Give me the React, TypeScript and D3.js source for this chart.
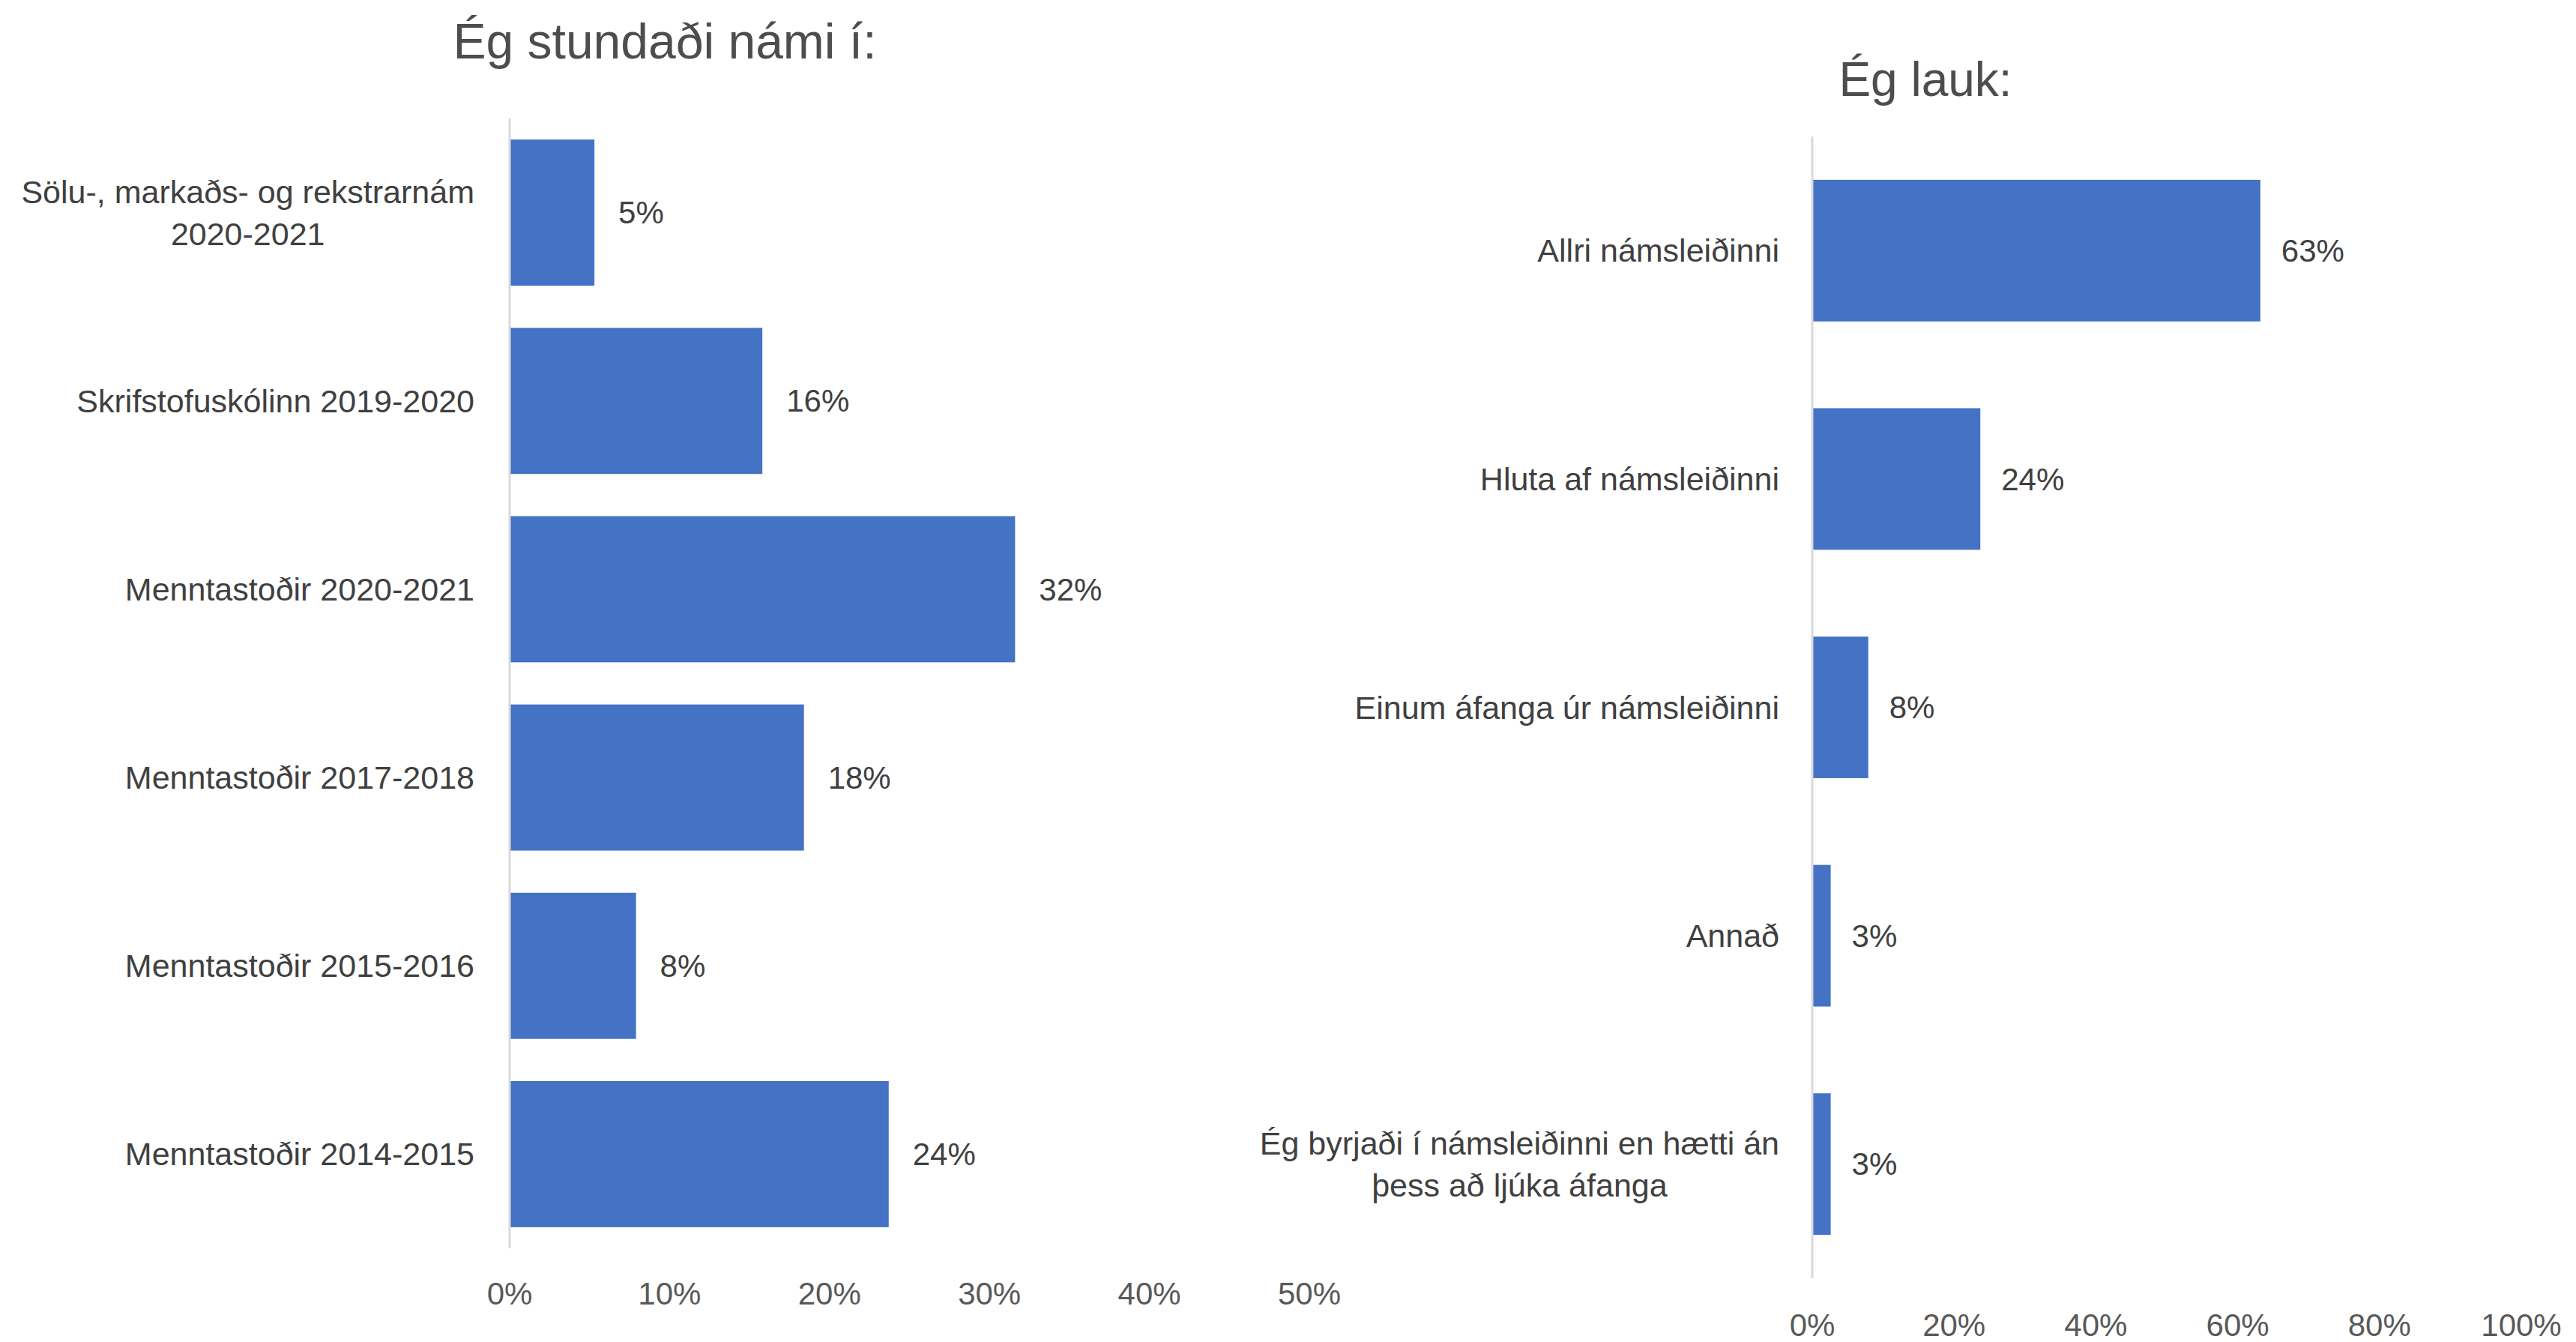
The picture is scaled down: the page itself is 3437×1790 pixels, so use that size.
import React, { useEffect, useRef } from "react";
import * as d3 from "d3";

const leftTitle = "Ég stundaði námi í:";
const leftCategories = [
  ["Sölu-, markaðs- og rekstrarnám", "2020-2021"],
  ["Skrifstofuskólinn 2019-2020"],
  ["Menntastoðir 2020-2021"],
  ["Menntastoðir 2017-2018"],
  ["Menntastoðir 2015-2016"],
  ["Menntastoðir 2014-2015"],
];
const leftValues = [0.053, 0.158, 0.316, 0.184, 0.079, 0.237];
const leftTicks = [0, 0.1, 0.2, 0.3, 0.4, 0.5];

const rightTitle = "Ég lauk:";
const rightCategories = [
  ["Allri námsleiðinni"],
  ["Hluta af námsleiðinni"],
  ["Einum áfanga úr námsleiðinni"],
  ["Annað"],
  ["Ég byrjaði í námsleiðinni en hætti án", "þess að ljúka áfanga"],
];
const rightValues = [0.632, 0.237, 0.079, 0.026, 0.026];
const rightTicks = [0, 0.2, 0.4, 0.6, 0.8, 1.0];

const FONT = "'Liberation Sans', Arial, sans-serif";
const BAR = "#4472C4";
const AXIS = "#D9D9D9";
const LABEL = "#595959";
const DATA = "#404040";

type Panel = {
  title: string;
  titleX: number;
  titleY: number;
  titleSize: number;
  cats: string[][];
  vals: number[];
  ticks: number[];
  domainMax: number;
  x0: number;
  x1: number;
  y0: number;
  y1: number;
  pad: number;
  tickY: number;
  labelGap: number;
  dataGap: number;
};

const panels: Panel[] = [
  {
    title: leftTitle, titleX: 887, titleY: 78, titleSize: 66,
    cats: leftCategories, vals: leftValues, ticks: leftTicks, domainMax: 0.5,
    x0: 680, x1: 1747, y0: 158, y1: 1665, pad: 0.224, tickY: 1740,
    labelGap: 47, dataGap: 32,
  },
  {
    title: rightTitle, titleX: 2569, titleY: 128, titleSize: 64,
    cats: rightCategories, vals: rightValues, ticks: rightTicks, domainMax: 1,
    x0: 2418, x1: 3364, y0: 182, y1: 1705, pad: 0.38, tickY: 1782,
    labelGap: 44, dataGap: 28,
  },
];

export default function App() {
  const ref = useRef<SVGSVGElement>(null);
  useEffect(() => {
    const svg = d3.select(ref.current);
    svg.selectAll("*").remove();
    svg.append("rect").attr("width", 3437).attr("height", 1790).attr("fill", "#fff");
    panels.forEach((p) => {
      const g = svg.append("g");
      const x = d3.scaleLinear().domain([0, p.domainMax]).range([p.x0, p.x1]);
      const y = d3
        .scaleBand<number>()
        .domain(p.cats.map((_, i) => i))
        .range([p.y0, p.y1])
        .paddingInner(p.pad)
        .paddingOuter(p.pad / 2);

      g.append("text")
        .attr("x", p.titleX)
        .attr("y", p.titleY)
        .attr("text-anchor", "middle")
        .attr("font-family", FONT)
        .attr("font-size", p.titleSize)
        .attr("fill", "#4d4d4d")
        .text(p.title);

      g.selectAll("rect.bar")
        .data(p.vals)
        .join("rect")
        .attr("class", "bar")
        .attr("x", x(0))
        .attr("y", (_, i) => y(i)!)
        .attr("width", (d) => x(d) - x(0))
        .attr("height", y.bandwidth())
        .attr("fill", BAR);

      g.append("line")
        .attr("x1", x(0)).attr("x2", x(0))
        .attr("y1", p.y0).attr("y2", p.y1)
        .attr("stroke", AXIS).attr("stroke-width", 3);

      g.selectAll("text.dl")
        .data(p.vals)
        .join("text")
        .attr("class", "dl")
        .attr("x", (d) => x(d) + p.dataGap)
        .attr("y", (_, i) => y(i)! + y.bandwidth() / 2)
        .attr("dy", "0.35em")
        .attr("font-family", FONT)
        .attr("font-size", 42)
        .attr("fill", DATA)
        .text((d) => d3.format(".0%")(d));

      g.selectAll("text.tick")
        .data(p.ticks)
        .join("text")
        .attr("class", "tick")
        .attr("x", (d) => x(d))
        .attr("y", p.tickY)
        .attr("text-anchor", "middle")
        .attr("font-family", FONT)
        .attr("font-size", 42)
        .attr("fill", LABEL)
        .text((d) => d3.format(".0%")(d));

      const right = x(0) - p.labelGap;
      const lh = 56;
      p.cats.forEach((lines, i) => {
        const cy = y(i)! + y.bandwidth() / 2;
        const t = g
          .append("text")
          .attr("font-family", FONT)
          .attr("font-size", 43)
          .attr("fill", DATA);
        const spans = lines.map((ln, k) =>
          t
            .append("tspan")
            .attr("x", right)
            .attr("y", cy + (k - (lines.length - 1) / 2) * lh)
            .attr("dy", "0.35em")
            .attr("text-anchor", "end")
            .text(ln)
        );
        if (lines.length > 1) {
          const widths = spans.map((s) => (s.node() as SVGTSpanElement).getComputedTextLength());
          const maxW = Math.max(...widths);
          spans.forEach((s) => s.attr("text-anchor", "middle").attr("x", right - maxW / 2));
        }
      });
    });
  }, []);
  return (
    <svg
      ref={ref}
      width={3437}
      height={1790}
      style={{ position: "absolute", left: 0, top: 0, display: "block" }}
    />
  );
}
